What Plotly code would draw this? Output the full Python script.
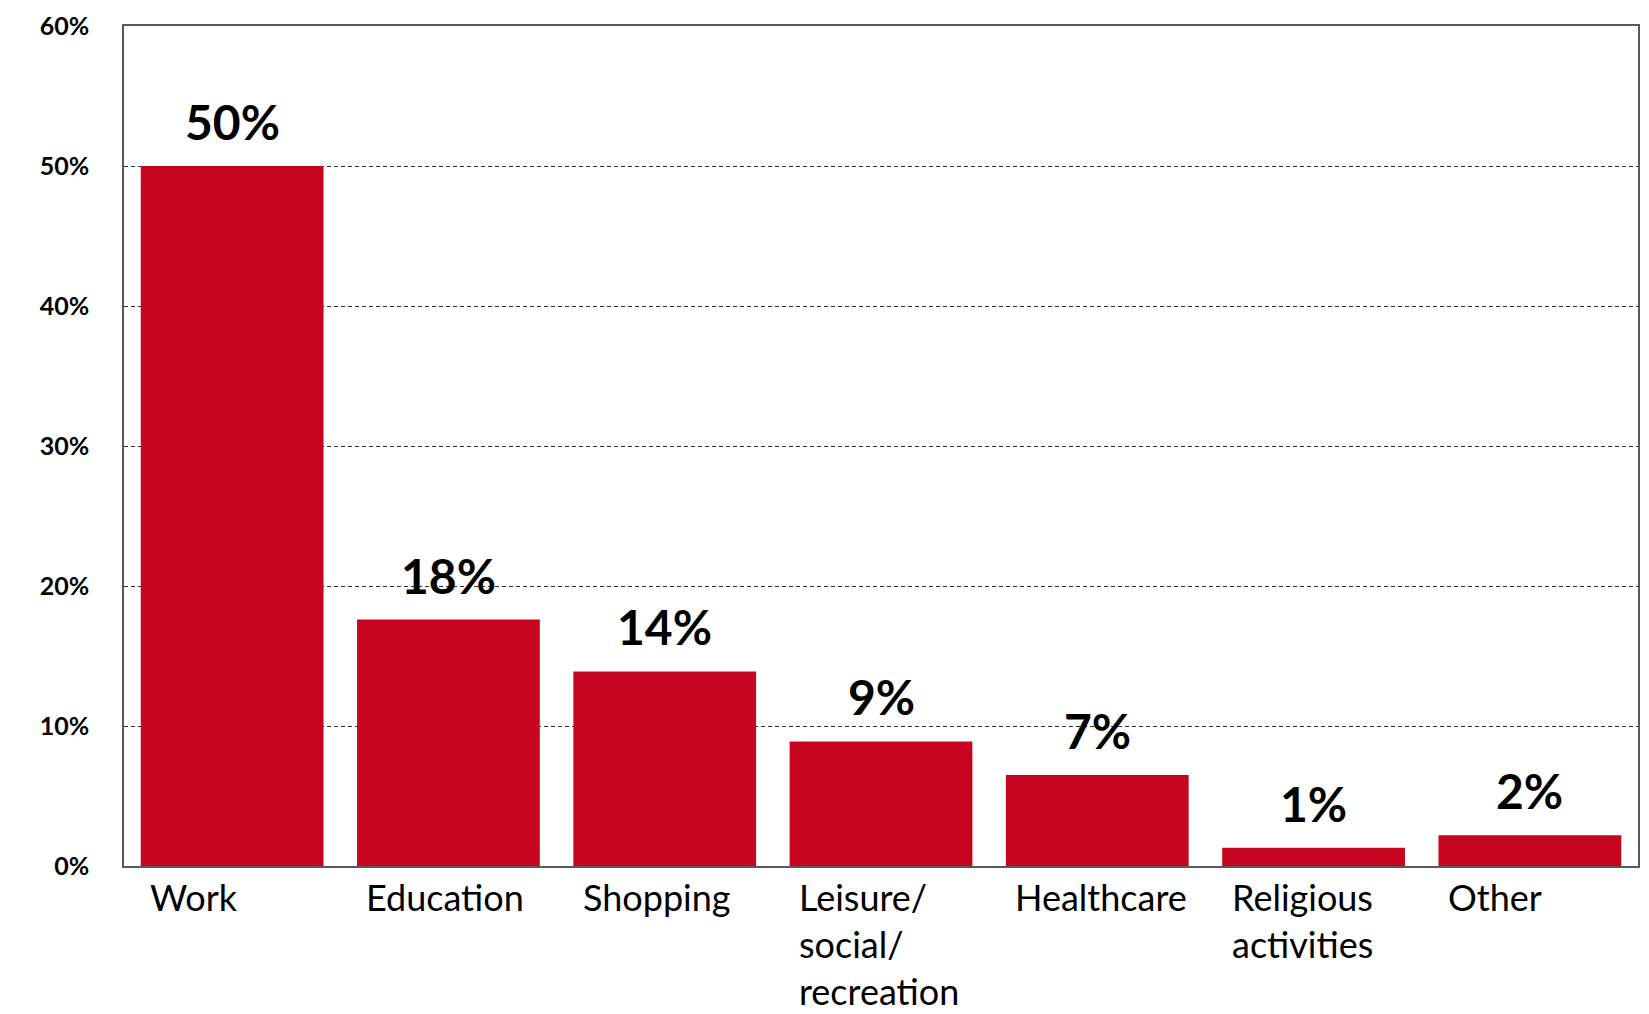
import plotly.graph_objects as go

categories = ["Work", "Education", "Shopping", "Leisure/<br>social/<br>recreation",
              "Healthcare", "Religious<br>activities", "Other"]
values = [50.0, 17.6, 13.9, 8.9, 6.5, 1.3, 2.2]
value_labels = ["50%", "18%", "14%", "9%", "7%", "1%", "2%"]
y_ticks = [0, 10, 20, 30, 40, 50, 60]
y_tick_labels = ["0%", "10%", "20%", "30%", "40%", "50%", "60%"]

BAR_COLOR = "#C80520"
FONT = "Lato"

fig = go.Figure()
fig.add_trace(go.Bar(x=list(range(len(categories))), y=values,
                     marker=dict(color=BAR_COLOR, line=dict(width=0)),
                     hoverinfo="skip"))

# value labels above bars
for i, (v, lab) in enumerate(zip(values, value_labels)):
    fig.add_annotation(x=i, y=v, text=lab, showarrow=False, xref="x", yref="y",
                       yanchor="bottom", yshift=14,
                       font=dict(family=FONT, size=48, color="black", weight="bold"))

# category labels (left aligned under bars)
for i, cat in enumerate(categories):
    fig.add_annotation(x=i, y=0, text=cat, showarrow=False, xref="x", yref="paper",
                       xanchor="left", yanchor="top", align="left", xshift=-84, yshift=-7,
                       font=dict(family=FONT, size=36, color="black"))

fig.update_layout(
    width=1649, height=1014,
    margin=dict(l=116, r=19, t=18, b=156),
    paper_bgcolor="white", plot_bgcolor="white",
    showlegend=False, bargap=0.155,
    xaxis=dict(range=[-0.5, len(categories) - 0.5], showticklabels=False,
               showgrid=False, zeroline=False, showline=True, mirror=True,
               linecolor="#595959", linewidth=1.5, ticks="", automargin=False),
    yaxis=dict(range=[0, 60], tickvals=y_ticks, ticktext=y_tick_labels,
               tickfont=dict(family=FONT, size=25, color="black", weight="bold"),
               showgrid=True, gridcolor="#333333", gridwidth=1, griddash="4px,3px",
               zeroline=False, showline=True, mirror=True,
               linecolor="#595959", linewidth=1.5, ticks="", ticklabelstandoff=28,
               ticklabeloverflow="allow", automargin=False),
)

fig.write_html("out.html")
